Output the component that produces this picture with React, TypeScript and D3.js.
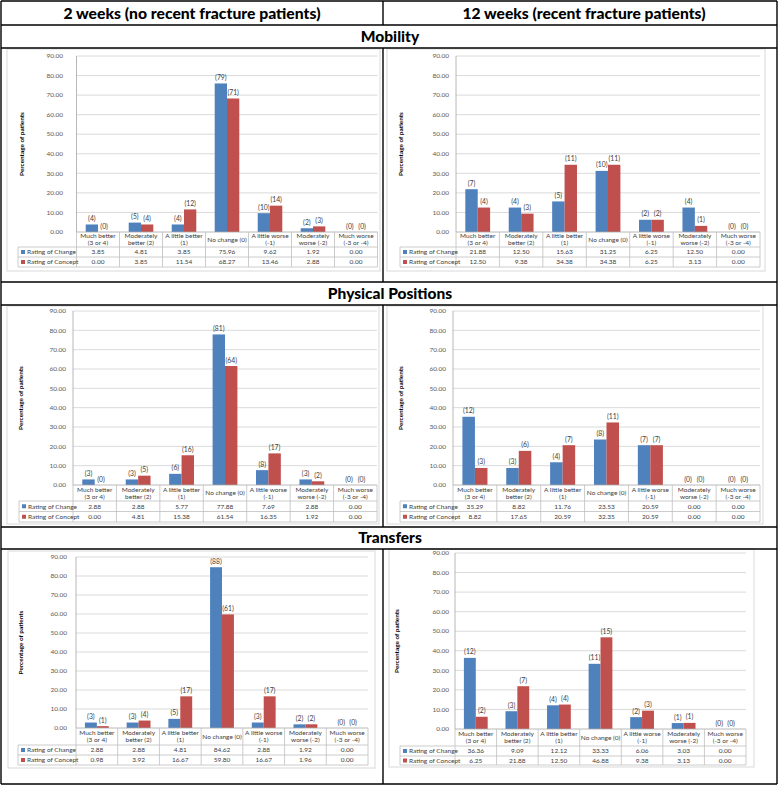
import React, { useEffect } from "react";
import * as d3 from "d3";

// ---------- DATA ----------
const categoryLines: string[][] = [
  ["Much better", "(3 or 4)"],
  ["Moderately", "better (2)"],
  ["A little better", "(1)"],
  ["No change (0)"],
  ["A little worse", "(-1)"],
  ["Moderately", "worse (-2)"],
  ["Much worse", "(-3 or -4)"],
];
const seriesNames = ["Rating of Change", "Rating of Concept"];
const yTicks = [0, 10, 20, 30, 40, 50, 60, 70, 80, 90];
const columnTitles = ["2 weeks (no recent fracture patients)", "12 weeks (recent fracture patients)"];
const sectionTitles = ["Mobility", "Physical Positions", "Transfers"];

const mobility2wChange = [3.85, 4.81, 3.85, 75.96, 9.62, 1.92, 0.0];
const mobility2wConcept = [0.0, 3.85, 11.54, 68.27, 13.46, 2.88, 0.0];
const mobility2wChangeN = [4, 5, 4, 79, 10, 2, 0];
const mobility2wConceptN = [0, 4, 12, 71, 14, 3, 0];

const mobility12wChange = [21.88, 12.5, 15.63, 31.25, 6.25, 12.5, 0.0];
const mobility12wConcept = [12.5, 9.38, 34.38, 34.38, 6.25, 3.13, 0.0];
const mobility12wChangeN = [7, 4, 5, 10, 2, 4, 0];
const mobility12wConceptN = [4, 3, 11, 11, 2, 1, 0];

const positions2wChange = [2.88, 2.88, 5.77, 77.88, 7.69, 2.88, 0.0];
const positions2wConcept = [0.0, 4.81, 15.38, 61.54, 16.35, 1.92, 0.0];
const positions2wChangeN = [3, 3, 6, 81, 8, 3, 0];
const positions2wConceptN = [0, 5, 16, 64, 17, 2, 0];

const positions12wChange = [35.29, 8.82, 11.76, 23.53, 20.59, 0.0, 0.0];
const positions12wConcept = [8.82, 17.65, 20.59, 32.35, 20.59, 0.0, 0.0];
const positions12wChangeN = [12, 3, 4, 8, 7, 0, 0];
const positions12wConceptN = [3, 6, 7, 11, 7, 0, 0];

const transfers2wChange = [2.88, 2.88, 4.81, 84.62, 2.88, 1.92, 0.0];
const transfers2wConcept = [0.98, 3.92, 16.67, 59.8, 16.67, 1.96, 0.0];
const transfers2wChangeN = [3, 3, 5, 88, 3, 2, 0];
const transfers2wConceptN = [1, 4, 17, 61, 17, 2, 0];

const transfers12wChange = [36.36, 9.09, 12.12, 33.33, 6.06, 3.03, 0.0];
const transfers12wConcept = [6.25, 21.88, 12.5, 46.88, 9.38, 3.13, 0.0];
const transfers12wChangeN = [12, 3, 4, 11, 2, 1, 0];
const transfers12wConceptN = [2, 7, 4, 15, 3, 1, 0];

// ---------- LAYOUT ----------
type Geom = {
  fx: number; fy: number; fw: number; fh: number;
  px0: number; px1: number; py90: number; py0: number;
  tickX: number; titleX: number; tableLeft: number;
  rLabel: number; rChange: number; rConcept: number;
};

const geoms: Geom[] = [
  { fx: 7, fy: 49, fw: 373, fh: 222, px0: 76.5, px1: 377.5, py90: 56, py0: 232, tickX: 63, titleX: 22, tableLeft: 18, rLabel: 247, rChange: 257, rConcept: 267 },
  { fx: 387, fy: 49, fw: 378, fh: 222, px0: 456, px1: 760, py90: 56, py0: 232, tickX: 449, titleX: 401, tableLeft: 400, rLabel: 247, rChange: 257, rConcept: 267 },
  { fx: 7, fy: 306, fw: 372, fh: 218, px0: 73, px1: 377, py90: 311, py0: 485, tickX: 66, titleX: 21, tableLeft: 19, rLabel: 501, rChange: 511.5, rConcept: 522 },
  { fx: 387, fy: 306, fw: 376, fh: 218, px0: 453, px1: 760, py90: 311, py0: 485, tickX: 446, titleX: 401, tableLeft: 400, rLabel: 501, rChange: 511.5, rConcept: 522 },
  { fx: 8, fy: 551, fw: 367, fh: 217, px0: 76, px1: 368, py90: 557, py0: 728, tickX: 67, titleX: 21, tableLeft: 18, rLabel: 745, rChange: 755, rConcept: 765 },
  { fx: 389, fy: 549, fw: 365, fh: 218, px0: 455, px1: 746, py90: 553, py0: 729, tickX: 449, titleX: 397, tableLeft: 400, rLabel: 746, rChange: 756, rConcept: 765 },
];

const panelSeries = [
  [mobility2wChange, mobility2wConcept, mobility2wChangeN, mobility2wConceptN],
  [mobility12wChange, mobility12wConcept, mobility12wChangeN, mobility12wConceptN],
  [positions2wChange, positions2wConcept, positions2wChangeN, positions2wConceptN],
  [positions12wChange, positions12wConcept, positions12wChangeN, positions12wConceptN],
  [transfers2wChange, transfers2wConcept, transfers2wChangeN, transfers2wConceptN],
  [transfers12wChange, transfers12wConcept, transfers12wChangeN, transfers12wConceptN],
];

const BLUE = "#4F81BD";
const RED = "#C0504D";
const TXT = "#404040";
const GRID = "#D0D0D0";
const TBL = "#BFBFBF";
const FONT = "Lato, 'Open Sans', sans-serif";
const fmt = d3.format(".2f");

function Panel({ g, change, concept, changeN, conceptN }: { g: Geom; change: number[]; concept: number[]; changeN: number[]; conceptN: number[] }) {
  const y = d3.scaleLinear().domain([0, 90]).range([g.py0, g.py90]);
  const x = d3.scaleBand<number>().domain(d3.range(categoryLines.length)).range([g.px0, g.px1]).paddingInner(0).paddingOuter(0);
  const xs = d3.scaleBand<string>().domain(["change", "concept"]).range([0, x.bandwidth()]).paddingInner(0).paddingOuter(0.75);
  const bw = x.bandwidth();
  const series = [
    { key: "change", vals: change, ns: changeN, color: BLUE },
    { key: "concept", vals: concept, ns: conceptN, color: RED },
  ];
  const labelMid = (g.py0 + g.rLabel) / 2;
  const changeMid = (g.rLabel + g.rChange) / 2;
  const conceptMid = (g.rChange + g.rConcept) / 2;
  return (
    <g fontFamily={FONT}>
      <rect x={g.fx} y={g.fy} width={g.fw} height={g.fh} fill="#fff" stroke="#D9D9D9" strokeWidth={1} />
      {yTicks.map((t) => (
        <g key={t}>
          {t > 0 && <line x1={g.px0} x2={g.px1} y1={y(t)} y2={y(t)} stroke={GRID} strokeWidth={0.8} />}
          <text x={g.tickX} y={y(t)} dy="0.35em" textAnchor="end" fontSize={6.5} fill="#595959">{fmt(t)}</text>
        </g>
      ))}
      <line x1={g.px0} x2={g.px0} y1={g.py90} y2={g.py0} stroke="#A6A6A6" strokeWidth={0.8} />
      {series.map((s) =>
        s.vals.map((v, i) => {
          const bx = (x(i) as number) + (xs(s.key) as number);
          return (
            <g key={s.key + i}>
              <rect x={bx} y={y(v)} width={xs.bandwidth()} height={g.py0 - y(v)} fill={s.color} />
              <text x={bx + xs.bandwidth() / 2} y={y(v) - 3.5} textAnchor="middle" fontSize={6.8} fill={TXT}>{`(${s.ns[i]})`}</text>
            </g>
          );
        })
      )}
      {/* data table */}
      <line x1={g.px0} x2={g.px1} y1={g.py0} y2={g.py0} stroke="#A6A6A6" strokeWidth={0.8} />
      {[g.rLabel, g.rChange, g.rConcept].map((ry) => (
        <line key={ry} x1={g.tableLeft} x2={g.px1} y1={ry} y2={ry} stroke={TBL} strokeWidth={0.8} />
      ))}
      <line x1={g.tableLeft} x2={g.tableLeft} y1={g.rLabel} y2={g.rConcept} stroke={TBL} strokeWidth={0.8} />
      {d3.range(categoryLines.length + 1).map((i) => (
        <line key={i} x1={g.px0 + i * bw} x2={g.px0 + i * bw} y1={g.py0} y2={g.rConcept} stroke={TBL} strokeWidth={0.8} />
      ))}
      {categoryLines.map((lines, i) => {
        const cx = (x(i) as number) + bw / 2;
        return (
          <text key={i} x={cx} textAnchor="middle" fontSize={6.5} fill={TXT}>
            {lines.map((ln, j) => (
              <tspan key={j} x={cx} y={labelMid + (j - (lines.length - 1) / 2) * 7.4} dy="0.35em">{ln}</tspan>
            ))}
          </text>
        );
      })}
      {series.map((s, si) => {
        const cy = si === 0 ? changeMid : conceptMid;
        return (
          <g key={s.key}>
            <rect x={g.tableLeft + 3} y={cy - 2} width={4} height={4} fill={s.color} />
            <text x={g.tableLeft + 9} y={cy} dy="0.35em" fontSize={6.5} fill={TXT}>{seriesNames[si]}</text>
            {s.vals.map((v, i) => (
              <text key={i} x={(x(i) as number) + bw / 2} y={cy} dy="0.35em" textAnchor="middle" fontSize={6.5} fill={TXT}>{fmt(v)}</text>
            ))}
          </g>
        );
      })}
      <text transform={`translate(${g.titleX},${(g.py0 + g.py90) / 2}) rotate(-90)`} textAnchor="middle" dy="0.35em" fontSize={6.4} fontWeight="bold" fill="#000">Percentage of patients</text>
    </g>
  );
}

export default function App() {
  useEffect(() => {
    document.body.style.margin = "0";
  }, []);
  const L = 1, R = 777, MID = 383;
  const lines = [
    // horizontal
    [L, 1, R, 1], [L, 25, R, 25], [L, 48, R, 48],
    [L, 282, R, 282], [L, 305, R, 305],
    [L, 527, R, 527], [L, 549, R, 549], [L, 784, R, 784],
    // vertical
    [L, 1, L, 784], [R, 1, R, 784],
    [MID, 1, MID, 25], [MID, 48, MID, 282], [MID, 305, MID, 527], [MID, 549, MID, 784],
  ];
  const sectionY = [36.5, 293.5, 538];
  return (
    <svg width={779} height={785} style={{ position: "absolute", left: 0, top: 0, background: "#fff" }}>
      <rect width={779} height={785} fill="#fff" />
      {geoms.map((g, i) => (
        <Panel key={i} g={g} change={panelSeries[i][0]} concept={panelSeries[i][1]} changeN={panelSeries[i][2]} conceptN={panelSeries[i][3]} />
      ))}
      {lines.map((l, i) => (
        <line key={i} x1={l[0]} y1={l[1]} x2={l[2]} y2={l[3]} stroke="#000" strokeWidth={1.4} />
      ))}
      <text x={192} y={13.5} dy="0.35em" textAnchor="middle" fontFamily={FONT} fontWeight="900" fontSize={15.5} textLength={257} lengthAdjust="spacingAndGlyphs">{columnTitles[0]}</text>
      <text x={584} y={13.5} dy="0.35em" textAnchor="middle" fontFamily={FONT} fontWeight="900" fontSize={15.5} textLength={243} lengthAdjust="spacingAndGlyphs">{columnTitles[1]}</text>
      {sectionTitles.map((t, i) => (
        <text key={t} x={390} y={sectionY[i]} dy="0.35em" textAnchor="middle" fontFamily={FONT} fontWeight="900" fontSize={15.5}>{t}</text>
      ))}
    </svg>
  );
}
